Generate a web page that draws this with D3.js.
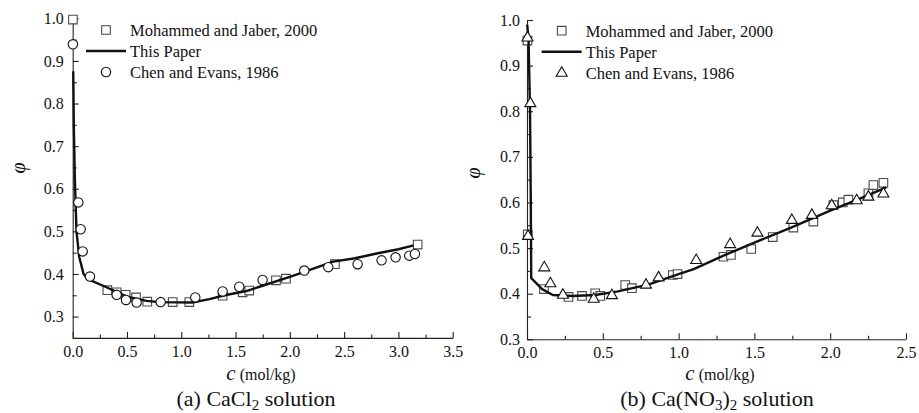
<!DOCTYPE html>
<html>
<head>
<meta charset="utf-8">
<script src="https://cdn.jsdelivr.net/npm/d3@7"></script>
<style>
  html, body { margin: 0; padding: 0; background: #fff; }
  svg text { font-family: "Liberation Serif", "Times New Roman", serif; fill: #111; }
</style>
</head>
<body>
<svg id="chart" width="919" height="413"></svg>
<script>
// ---------------- Data: panel (a) CaCl2 ----------------
const aJaberC   = [0.002, 0.319, 0.405, 0.488, 0.583, 0.687, 0.921, 1.074, 1.381, 1.565, 1.626, 1.872, 1.964, 2.415, 3.177];
const aJaberPhi = [0.997, 0.362, 0.357, 0.351, 0.345, 0.335, 0.334, 0.334, 0.349, 0.357, 0.361, 0.385, 0.389, 0.423, 0.469];

const aChenC   = [0.002, 0.052, 0.073, 0.092, 0.159, 0.405, 0.491, 0.589, 0.810, 1.129, 1.381, 1.534, 1.749, 2.133, 2.354, 2.624, 2.845, 2.974, 3.100, 3.152];
const aChenPhi = [0.939, 0.568, 0.505, 0.453, 0.394, 0.351, 0.339, 0.333, 0.334, 0.345, 0.359, 0.370, 0.386, 0.408, 0.416, 0.423, 0.432, 0.439, 0.443, 0.447];

const aModelC   = [0.005, 0.010, 0.020, 0.035, 0.060, 0.080, 0.100, 0.140, 0.300, 0.500, 0.680, 0.800, 1.100, 1.260, 1.400, 1.600, 1.720, 2.000, 2.230, 2.400, 2.600, 2.800, 3.000, 3.140];
const aModelPhi = [0.876, 0.750, 0.620, 0.500, 0.440, 0.420, 0.400, 0.388, 0.370, 0.347, 0.337, 0.334, 0.333, 0.341, 0.350, 0.360, 0.370, 0.393, 0.414, 0.429, 0.437, 0.448, 0.458, 0.467];

// ---------------- Data: panel (b) Ca(NO3)2 ----------------
const bJaberC   = [0.003, 0.005, 0.112, 0.274, 0.363, 0.450, 0.483, 0.648, 0.692, 0.962, 0.993, 1.296, 1.345, 1.479, 1.621, 1.757, 1.889, 2.021, 2.083, 2.120, 2.252, 2.285, 2.351];
const bJaberPhi = [0.955, 0.530, 0.410, 0.393, 0.395, 0.401, 0.395, 0.419, 0.412, 0.441, 0.443, 0.481, 0.485, 0.498, 0.524, 0.545, 0.558, 0.594, 0.600, 0.606, 0.620, 0.638, 0.643];

const bChenC   = [0.003, 0.022, 0.007, 0.114, 0.154, 0.237, 0.440, 0.560, 0.785, 0.868, 1.116, 1.340, 1.520, 1.747, 1.879, 2.010, 2.175, 2.252, 2.351];
const bChenPhi = [0.962, 0.818, 0.527, 0.458, 0.423, 0.398, 0.389, 0.397, 0.420, 0.436, 0.474, 0.509, 0.534, 0.562, 0.573, 0.594, 0.605, 0.613, 0.620];

const bModelC   = [0.001, 0.010, 0.020, 0.025, 0.028, 0.100, 0.170, 0.300, 0.450, 0.600, 0.800, 1.000, 1.100, 1.300, 1.500, 1.750, 2.000, 2.200, 2.370];
const bModelPhi = [0.990, 0.960, 0.800, 0.600, 0.434, 0.410, 0.397, 0.395, 0.397, 0.405, 0.420, 0.443, 0.454, 0.484, 0.512, 0.546, 0.582, 0.609, 0.633];

// ---------------- Ticks / labels ----------------
const aXTicks = [0, 0.5, 1.0, 1.5, 2.0, 2.5, 3.0, 3.5];
const aXMinor = [0.25, 0.75, 1.25, 1.75, 2.25, 2.75, 3.25];
const aYTicks = [0.3, 0.4, 0.5, 0.6, 0.7, 0.8, 0.9, 1.0];
const aYMinor = [0.25, 0.35, 0.45, 0.55, 0.65, 0.75, 0.85, 0.95];
const bXTicks = [0, 0.5, 1.0, 1.5, 2.0, 2.5];
const bXMinor = [0.25, 0.75, 1.25, 1.75, 2.25];
const bYTicks = [0.3, 0.4, 0.5, 0.6, 0.7, 0.8, 0.9, 1.0];
const bYMinor = [0.35, 0.45, 0.55, 0.65, 0.75, 0.85, 0.95];

const legendLabels = ["Mohammed and Jaber, 2000", "This Paper", "Chen and Evans, 1986"];

// ---------------- Drawing ----------------
const svg = d3.select("#chart");
const fmt = d3.format(".1f");

function zip(xs, ys) { return xs.map((x, i) => ({ x, y: ys[i] })); }

function squarePath(s) { const h = s / 2; return `M${-h},${-h}H${h}V${h}H${-h}Z`; }
function trianglePath(w, h) { return `M0,${-h * 0.62}L${w / 2},${h * 0.38}L${-w / 2},${h * 0.38}Z`; }
function circlePath(r) { return d3.arc()({ innerRadius: 0, outerRadius: r, startAngle: 0, endAngle: 2 * Math.PI }); }

function panel(cfg) {
  const g = svg.append("g");
  const x = d3.scaleLinear().domain(cfg.xDomain).range(cfg.xRange);
  const y = d3.scaleLinear().domain(cfg.yDomain).range(cfg.yRange);

  // axes
  const xAx = g.append("g").attr("transform", `translate(0,${cfg.yRange[0]})`)
    .call(d3.axisBottom(x).tickValues(cfg.xTicks).tickFormat(fmt).tickSizeInner(-6).tickSizeOuter(0).tickPadding(cfg.xPad));
  g.append("g").attr("transform", `translate(0,${cfg.yRange[0]})`)
    .call(d3.axisBottom(x).tickValues(cfg.xMinor).tickFormat("").tickSizeInner(-3.5).tickSizeOuter(0))
    .select(".domain").remove();
  const yAx = g.append("g").attr("transform", `translate(${cfg.xRange[0]},0)`)
    .call(d3.axisLeft(y).tickValues(cfg.yTicks).tickFormat(fmt).tickSizeInner(-6).tickSizeOuter(0).tickPadding(cfg.yPad));
  g.append("g").attr("transform", `translate(${cfg.xRange[0]},0)`)
    .call(d3.axisLeft(y).tickValues(cfg.yMinor).tickFormat("").tickSizeInner(-4).tickSizeOuter(0))
    .select(".domain").remove();
  g.selectAll(".domain, .tick line").attr("stroke", "#222").attr("stroke-width", 1.1);
  xAx.selectAll("text").style("font-size", "16px").attr("fill", "#111");
  yAx.selectAll("text").style("font-size", "16px").attr("fill", "#111");

  const sqColor = "#4a4a4a";
  // squares (Mohammed and Jaber)
  g.append("g").selectAll("path").data(zip(cfg.jC, cfg.jPhi)).join("path")
    .attr("d", squarePath(8.6))
    .attr("transform", d => `translate(${x(d.x)},${y(d.y)})`)
    .attr("fill", "#fff").attr("stroke", sqColor).attr("stroke-width", 1.1);

  // model line
  g.append("path").datum(zip(cfg.mC, cfg.mPhi))
    .attr("d", d3.line().x(d => x(d.x)).y(d => y(d.y)))
    .attr("fill", "none").attr("stroke", "#111").attr("stroke-width", 2.4).attr("stroke-linejoin", "round");

  // Chen and Evans markers
  const markD = cfg.marker === "circle" ? circlePath(4.7) : trianglePath(11, 9.5);
  g.append("g").selectAll("path").data(zip(cfg.cC, cfg.cPhi)).join("path")
    .attr("d", markD)
    .attr("transform", d => `translate(${x(d.x)},${y(d.y)})`)
    .attr("fill", "#fff").attr("stroke", "#111").attr("stroke-width", 1.1);

  // legend
  const lg = g.append("g");
  const lx = cfg.legend.x, ly = cfg.legend.y, dy = 21;
  lg.append("path").attr("d", squarePath(8.6)).attr("transform", `translate(${lx},${ly})`)
    .attr("fill", "#fff").attr("stroke", sqColor).attr("stroke-width", 1.1);
  lg.append("line").attr("x1", lx - 20).attr("x2", lx + 20).attr("y1", ly + dy).attr("y2", ly + dy)
    .attr("stroke", "#111").attr("stroke-width", 2.4);
  lg.append("path").attr("d", markD).attr("transform", `translate(${lx},${ly + 2 * dy})`)
    .attr("fill", "#fff").attr("stroke", "#111").attr("stroke-width", 1.1);
  lg.selectAll("text").data(legendLabels).join("text")
    .attr("x", lx + 24).attr("y", (d, i) => ly + i * dy + 5.8)
    .style("font-size", "16.5px").text(d => d);

  // y label phi
  g.append("text").attr("transform", `translate(${cfg.phiPos[0]},${cfg.phiPos[1]}) rotate(-90)`)
    .attr("text-anchor", "middle").style("font-size", "20px").style("font-style", "italic").text("φ");

  // x title
  const xt = g.append("text").attr("x", cfg.xTitle[0]).attr("y", cfg.xTitle[1]).attr("text-anchor", "middle");
  xt.append("tspan").style("font-style", "italic").style("font-size", "21px").text("c");
  xt.append("tspan").style("font-size", "16px").text(" (mol/kg)");

  // subtitle
  const st = g.append("text").attr("x", cfg.sub[0]).attr("y", cfg.sub[1]).attr("text-anchor", "middle").style("font-size", "22px");
  cfg.subParts.forEach(p => {
    const t = st.append("tspan").text(p.t);
    if (p.sub) t.attr("dy", 4).style("font-size", "15px");
    if (p.after) t.attr("dy", -4);
  });
}

panel({
  xDomain: [0, 3.5], xRange: [72.7, 452.7],
  yDomain: [0.25, 1.0], yRange: [337.9, 18.3],
  xTicks: aXTicks, xMinor: aXMinor, yTicks: aYTicks, yMinor: aYMinor,
  xPad: 8, yPad: 9,
  jC: aJaberC, jPhi: aJaberPhi, cC: aChenC, cPhi: aChenPhi, mC: aModelC, mPhi: aModelPhi,
  marker: "circle",
  legend: { x: 106, y: 30 },
  phiPos: [25, 168],
  xTitle: [261, 380],
  sub: [256, 406],
  subParts: [{ t: "(a) CaCl" }, { t: "2", sub: true }, { t: " solution", after: true }]
});

panel({
  xDomain: [0, 2.5], xRange: [527, 906],
  yDomain: [0.3, 1.0], yRange: [339.3, 20],
  xTicks: bXTicks, xMinor: bXMinor, yTicks: bYTicks, yMinor: bYMinor,
  xPad: 7, yPad: 7,
  jC: bJaberC, jPhi: bJaberPhi, cC: bChenC, cPhi: bChenPhi, mC: bModelC, mPhi: bModelPhi,
  marker: "triangle",
  legend: { x: 561.7, y: 30.7 },
  phiPos: [480, 173],
  xTitle: [720, 380],
  sub: [717, 406],
  subParts: [{ t: "(b) Ca(NO" }, { t: "3", sub: true }, { t: ")", after: true }, { t: "2", sub: true }, { t: " solution", after: true }]
});
</script>
</body>
</html>
